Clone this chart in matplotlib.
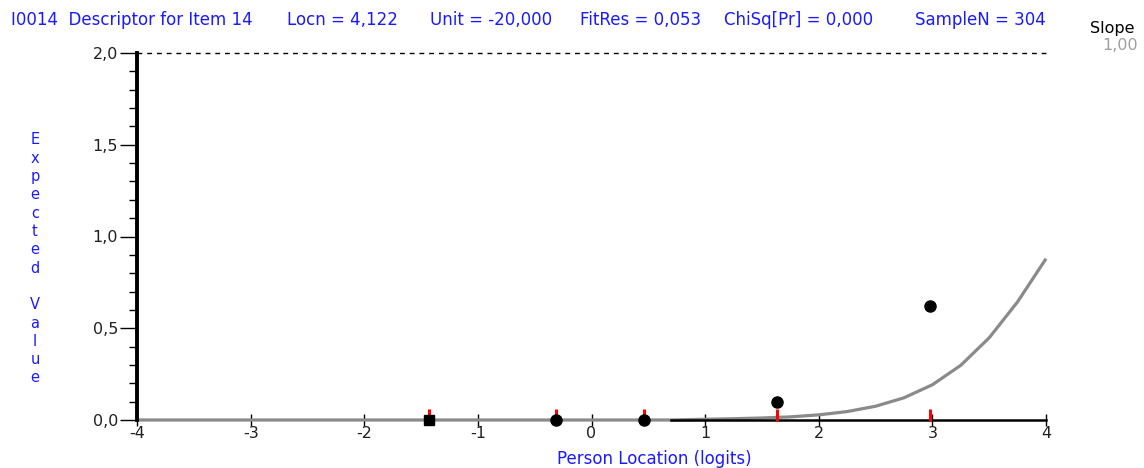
import matplotlib
matplotlib.use("Agg")
import matplotlib.pyplot as plt
from matplotlib.ticker import MultipleLocator

# Item header
item_id = "I0014"
item_desc = "Descriptor for Item 14"
locn = "4,122"
unit = "-20,000"
fitres = "0,053"
chisq_pr = "0,000"
sample_n = "304"
slope = "1,00"

# Expected value curve (read at 0.25 logit steps)
curve_x = [-4.0, 0.7, 1.0, 1.25, 1.5, 1.75, 2.0, 2.25, 2.5, 2.75, 3.0, 3.25, 3.5, 3.75, 4.0]
curve_y = [0.0, 0.0, 0.004, 0.007, 0.011, 0.017, 0.028, 0.046, 0.075, 0.121, 0.192, 0.298, 0.448, 0.644, 0.879]

# Observed class-interval means
class_x = [-1.43, -0.31, 0.46, 1.63, 2.98]
class_y = [0.0, 0.0, 0.0, 0.098, 0.62]

x_ticks = [-4, -3, -2, -1, 0, 1, 2, 3, 4]
y_ticks = [0.0, 0.5, 1.0, 1.5, 2.0]
y_max = 2.0

BLUE = "#1a1aff"
GRAY = "#8a8a8a"
W, H = 1144, 468

fig = plt.figure(figsize=(W / 100, H / 100), dpi=100)
ax = fig.add_axes([137 / W, 1 - 420 / H, (1046 - 137) / W, (420 - 53) / H])
ax.set_xlim(-4, 4)
ax.set_ylim(0, y_max)

for s in ("top", "right"):
    ax.spines[s].set_visible(False)
ax.spines["left"].set_linewidth(2.8)
ax.spines["left"].set_color("black")
ax.spines["bottom"].set_linewidth(1.8)
ax.spines["bottom"].set_color("black")
ax.spines["bottom"].set_bounds(0.7, 4)
ax.spines["bottom"].set_zorder(3)

# dashed line at the maximum score
ax.plot([-4, 4], [y_max, y_max], ls=(0, (3.5, 3.5)), color="black", lw=1, clip_on=False)

# model curve
ax.plot(curve_x, curve_y, color=GRAY, lw=2.3, clip_on=False, zorder=2, solid_capstyle="butt")

# class-interval markers
for i, (cx, cy) in enumerate(zip(class_x, class_y)):
    ax.plot([cx, cx], [-0.008, 0.06], color="red", lw=2.2, clip_on=False, zorder=4,
            solid_capstyle="butt")
    ax.plot(cx, cy, marker="s" if i == 0 else "o", ms=7.5 if i == 0 else 8,
            color="black", clip_on=False, zorder=5)

ax.set_xticks(x_ticks)
ax.set_xticklabels([str(t) for t in x_ticks])
ax.tick_params(axis="x", direction="inout", length=8, width=1, colors="black",
               labelsize=11.5, pad=0, labelcolor="#202020")
ax.set_yticks(y_ticks)
ax.set_yticklabels([f"{t:.1f}".replace(".", ",") for t in y_ticks])
ax.yaxis.set_minor_locator(MultipleLocator(0.1))
ax.tick_params(axis="y", which="major", direction="out", length=12, width=1,
               labelsize=11.5, pad=1.5, labelcolor="#202020")
ax.tick_params(axis="y", which="minor", direction="out", length=6, width=1)

fig.text(557 / W, 1 - 459 / H, "Person Location (logits)", color=BLUE, fontsize=12,
         ha="left", va="center")

# stacked vertical y-axis label
label = "Expected Value"
y0 = 140
for k, ch in enumerate(label):
    if ch != " ":
        fig.text(35 / W, 1 - (y0 + k * 18.3) / H, ch, color=BLUE, fontsize=10.5,
                 ha="center", va="center")

# header line
header = [
    (11, f"{item_id}  {item_desc}"),
    (287, f"Locn = {locn}"),
    (430, f"Unit = {unit}"),
    (580, f"FitRes = {fitres}"),
    (724, f"ChiSq[Pr] = {chisq_pr}"),
    (915, f"SampleN = {sample_n}"),
]
for px, txt in header:
    fig.text(px / W, 1 - 20 / H, txt, color=BLUE, fontsize=12, ha="left", va="center")
fig.text(1090 / W, 1 - 28 / H, "Slope", color="black", fontsize=11.5, ha="left", va="center")
fig.text(1102 / W, 1 - 46 / H, slope, color="#a0a0a0", fontsize=11.5, ha="left", va="center")

fig.savefig("out.png", dpi=100)
